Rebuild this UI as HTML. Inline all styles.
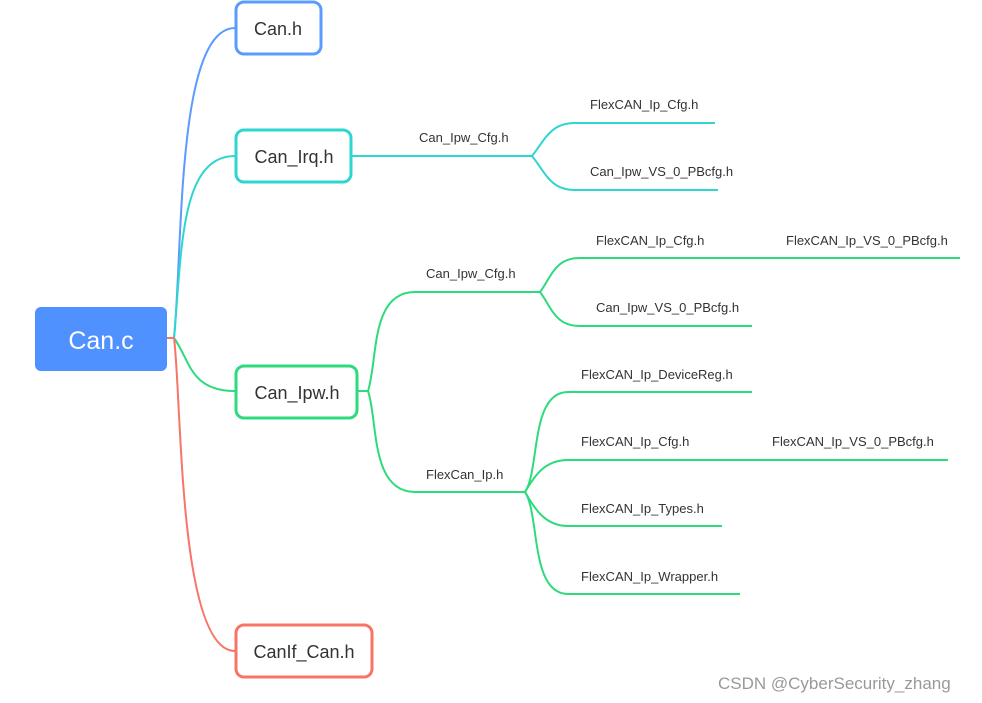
<!DOCTYPE html>
<html><head><meta charset="utf-8"><style>
html,body{margin:0;padding:0;background:#fff;}
svg{display:block;}
text{font-family:"Liberation Sans",sans-serif;}
</style></head><body>
<svg width="982" height="703" viewBox="0 0 982 703" xmlns="http://www.w3.org/2000/svg">
<g fill="none" stroke-width="2">
<path d="M167,338 L174,338 C183,250 176,28 235,28" stroke="#5b9bff"/>
<path d="M167,338 L174,338 C182,250 180,156 235,156" stroke="#2ed6d0"/>
<path d="M167,338 L174,338 C190,360 190,391 235,391" stroke="#2edb7c"/>
<path d="M167,338 L174,338 C182,400 178,651 235,651" stroke="#f87466"/>
<!-- Can_Irq branch -->
<path d="M352,156 L532,156" stroke="#2ed6d0"/>
<path d="M532,156 C545,140 550,123 575,123 L715,123" stroke="#2ed6d0"/>
<path d="M532,156 C545,172 550,190 575,190 L718,190" stroke="#2ed6d0"/>
<!-- Can_Ipw branch -->
<path d="M358,391 L368,391 C378,360 370,292 415,292 L540,292" stroke="#2edb7c"/>
<path d="M368,391 C378,420 370,492 415,492 L525,492" stroke="#2edb7c"/>
<path d="M540,292 C552,276 555,258 580,258 L960,258" stroke="#2edb7c"/>
<path d="M540,292 C552,308 555,326 580,326 L752,326" stroke="#2edb7c"/>
<path d="M525,492 C540,470 530,392 568,392 L752,392" stroke="#2edb7c"/>
<path d="M525,492 C535,475 545,460 568,460 L948,460" stroke="#2edb7c"/>
<path d="M525,492 C535,509 545,526 568,526 L722,526" stroke="#2edb7c"/>
<path d="M525,492 C540,515 530,594 568,594 L740,594" stroke="#2edb7c"/>
</g>
<rect x="35" y="307" width="132" height="64" rx="6" fill="#4f91ff"/>
<text x="101" y="349" font-size="25" fill="#fff" text-anchor="middle">Can.c</text>
<g fill="#fff" stroke-width="3">
<rect x="236" y="2" width="85" height="52" rx="8" stroke="#5b9bff"/>
<rect x="236" y="130" width="115" height="52" rx="8" stroke="#2ed6d0"/>
<rect x="236" y="366" width="121" height="52" rx="8" stroke="#2edb7c"/>
<rect x="236" y="625" width="136" height="52" rx="8" stroke="#f87466"/>
</g>
<g font-size="18" fill="#333" text-anchor="middle">
<text x="278" y="35">Can.h</text>
<text x="294" y="163">Can_Irq.h</text>
<text x="297" y="399">Can_Ipw.h</text>
<text x="304" y="658">CanIf_Can.h</text>
</g>
<g font-size="13" fill="#333">
<text x="419" y="142">Can_Ipw_Cfg.h</text>
<text x="590" y="109">FlexCAN_Ip_Cfg.h</text>
<text x="590" y="176">Can_Ipw_VS_0_PBcfg.h</text>
<text x="426" y="278">Can_Ipw_Cfg.h</text>
<text x="596" y="245">FlexCAN_Ip_Cfg.h</text>
<text x="786" y="245">FlexCAN_Ip_VS_0_PBcfg.h</text>
<text x="596" y="312">Can_Ipw_VS_0_PBcfg.h</text>
<text x="426" y="479">FlexCan_Ip.h</text>
<text x="581" y="379">FlexCAN_Ip_DeviceReg.h</text>
<text x="581" y="446">FlexCAN_Ip_Cfg.h</text>
<text x="772" y="446">FlexCAN_Ip_VS_0_PBcfg.h</text>
<text x="581" y="513">FlexCAN_Ip_Types.h</text>
<text x="581" y="581">FlexCAN_Ip_Wrapper.h</text>
</g>
<text x="718" y="689" font-size="17" fill="#999">CSDN @CyberSecurity_zhang</text>
</svg>
</body></html>
